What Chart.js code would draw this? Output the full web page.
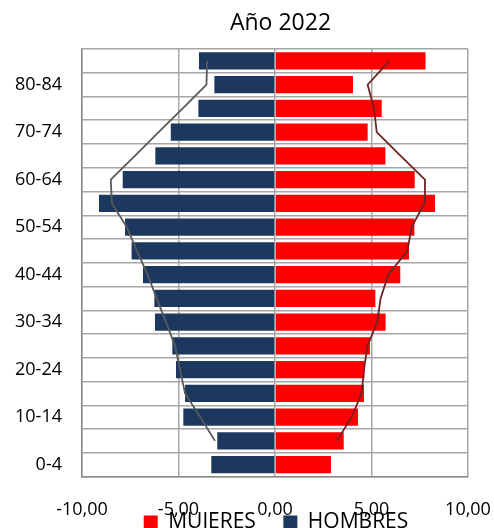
<!DOCTYPE html>
<html>
<head>
<meta charset="utf-8">
<script src="https://cdn.jsdelivr.net/npm/chart.js@4"></script>
<style>
  html, body { margin: 0; padding: 0; overflow: hidden; background: #fff; }
  #wrap { width: 494px; height: 581px; position: relative; }
</style>
</head>
<body>
<div id="wrap"><canvas id="pyramidChart"></canvas></div>
<script>
// age groups, youngest first (axis is reversed so 0-4 sits at the bottom)
const ageGroups = ['0-4', '5-9', '10-14', '15-19', '20-24', '25-29', '30-34', '35-39', '40-44',
  '45-49', '50-54', '55-59', '60-64', '65-69', '70-74', '75-79', '80-84', '85+'];

// % of population, year 2022 (bars)
const mujeres = [2.90, 3.56, 4.30, 4.61, 4.63, 4.92, 5.73, 5.20, 6.49, 6.94, 7.22, 8.29, 7.24, 5.72, 4.80, 5.53, 4.04, 7.80];
const hombres = [3.30, 2.99, 4.75, 4.66, 5.13, 5.32, 6.22, 6.25, 6.84, 7.43, 7.77, 9.12, 7.89, 6.20, 5.40, 3.97, 3.14, 3.94];

// comparison profile (lines)
const mujeresLinea = [null, 3.20, 3.97, 4.49, 4.61, 4.79, 5.30, 5.47, 5.87, 6.86, 7.08, 7.74, 7.77, 6.51, 5.27, 5.13, 4.80, 5.93];
const hombresLinea = [null, 3.11, 3.87, 4.66, 4.92, 5.18, 5.65, 6.13, 6.60, 7.15, 7.68, 8.45, 8.51, 7.26, 6.03, 4.78, 3.55, 3.52];

const xMin = -10;
const xMax = 10;
const xStep = 5;

const negate = arr => arr.map(v => (v === null ? null : -v));
const fmt = v => v.toFixed(2).replace('.', ',');

// title and legend sit centred over the plot, legend tucked right under the x labels
const shiftBlocks = {
  id: 'shiftBlocks',
  afterLayout(chart) {
    const shift = chart.chartArea.left - 24;
    if (chart.legend) {
      const lg = chart.legend;
      const h = lg.bottom - lg.top;
      lg.left += shift;
      lg.top = chart.chartArea.bottom + 8;
      lg.bottom = lg.top + h;
    }
    if (chart.titleBlock) chart.titleBlock.left += shift + 9;
  }
};

const ctx = document.getElementById('pyramidChart').getContext('2d');

new Chart(ctx, {
  type: 'bar',
  data: {
    labels: ageGroups,
    datasets: [
      {
        type: 'line',
        label: 'linea mujeres',
        indexAxis: 'y',
        data: mujeresLinea,
        borderColor: '#6b2424',
        borderWidth: 1.8,
        pointRadius: 0,
        tension: 0,
        fill: false,
        order: 0
      },
      {
        type: 'line',
        label: 'linea hombres',
        indexAxis: 'y',
        data: negate(hombresLinea),
        borderColor: '#595959',
        borderWidth: 1.8,
        pointRadius: 0,
        tension: 0,
        fill: false,
        order: 0
      },
      {
        label: 'MUJERES',
        data: mujeres,
        backgroundColor: '#ff0000',
        grouped: false,
        barPercentage: 0.73,
        categoryPercentage: 1,
        order: 1
      },
      {
        label: 'HOMBRES',
        data: negate(hombres),
        backgroundColor: '#1c385f',
        grouped: false,
        barPercentage: 0.73,
        categoryPercentage: 1,
        order: 1
      }
    ]
  },
  options: {
    indexAxis: 'y',
    responsive: true,
    maintainAspectRatio: false,
    animation: false,
    layout: { padding: 0 },
    plugins: {
      title: {
        display: true,
        text: 'Año 2022',
        color: '#000',
        font: { family: 'Open Sans', size: 23, weight: 'normal' },
        padding: { top: 10, bottom: 11.4 }
      },
      legend: {
        position: 'bottom',
        labels: {
          color: '#000',
          font: { family: 'Open Sans', size: 21 },
          boxWidth: 14,
          boxHeight: 14,
          padding: 27.5,
          filter: item => item.text === 'MUJERES' || item.text === 'HOMBRES'
        }
      },
      tooltip: { enabled: false }
    },
    scales: {
      x: {
        min: xMin,
        max: xMax,
        ticks: {
          stepSize: xStep,
          color: '#000',
          font: { family: 'Open Sans', size: 18 },
          padding: 23,
          callback: v => fmt(v)
        },
        grid: { color: '#a6a6a6', lineWidth: 1.5, drawTicks: false },
        border: { color: '#8c8c8c', width: 1.5 },
        afterFit: scale => {
          scale.height = 46;
          scale.paddingLeft = 0;
          scale.paddingRight = 26;
        }
      },
      y: {
        reverse: true,
        ticks: {
          autoSkip: false,
          color: '#000',
          font: { family: 'Open Sans', size: 18 },
          padding: 20,
          callback: function (value, index) {
            return index % 2 === 0 ? this.getLabelForValue(value) : '';
          }
        },
        grid: { color: '#a6a6a6', lineWidth: 1.5, drawTicks: false, offset: true },
        border: { color: '#8c8c8c', width: 1.5 },
        afterFit: scale => { scale.width = 82; }
      }
    }
  },
  plugins: [shiftBlocks]
});
</script>
</body>
</html>
